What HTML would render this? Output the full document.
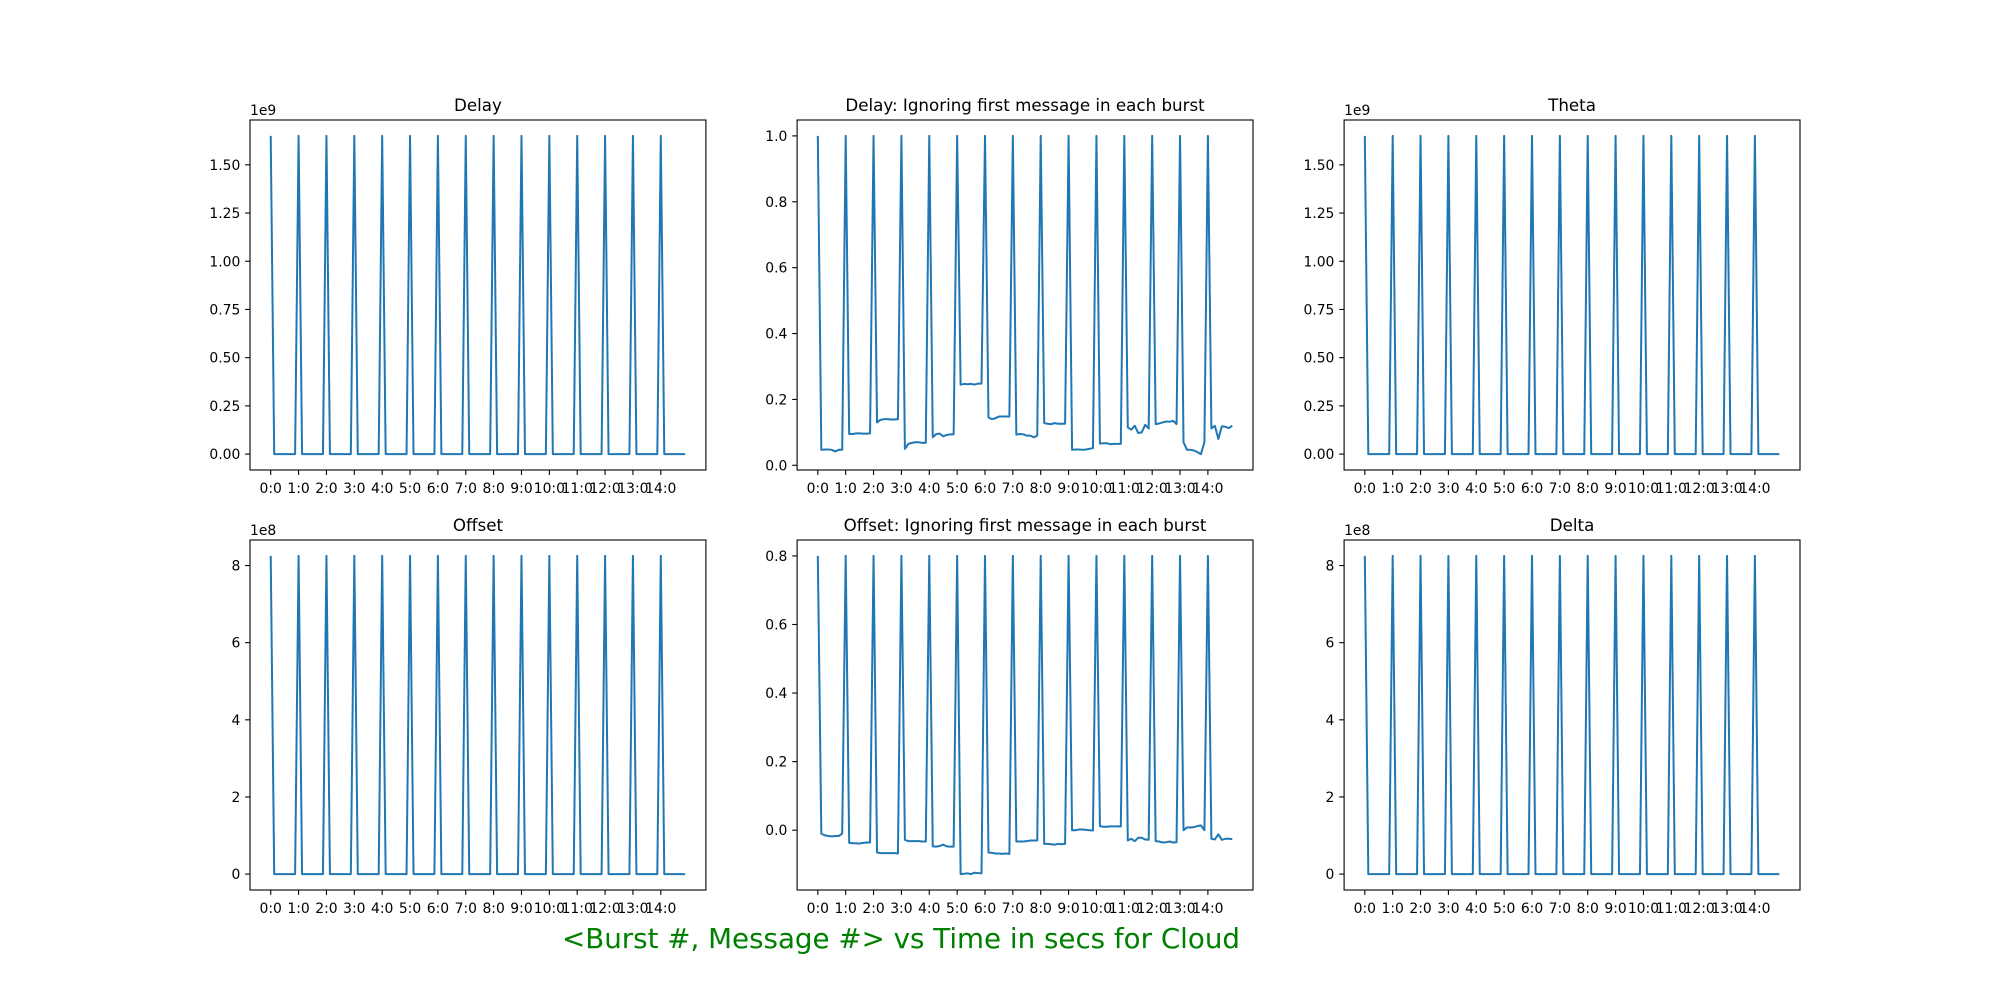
<!DOCTYPE html>
<html><head><meta charset="utf-8"><style>
html,body{margin:0;padding:0;background:#fff;}
svg{display:block;font-family:"DejaVu Sans","Liberation Sans",sans-serif;}
</style></head><body>
<svg id="fig" width="2000" height="1000" viewBox="0 0 2000 1000" xmlns="http://www.w3.org/2000/svg">
<rect width="2000" height="1000" fill="#fff"/>
<text x="562" y="948" font-size="27.8" fill="#008000" textLength="678" lengthAdjust="spacingAndGlyphs">&lt;Burst #, Message #&gt; vs Time in secs for Cloud</text>
</svg>
<script>
const burstLabels = ["0:0","1:0","2:0","3:0","4:0","5:0","6:0","7:0","8:0","9:0","10:0","11:0","12:0","13:0","14:0"];
const messagesPerBurst = 8;
const delayBursts = [
[1.65e9,0,0,0,0,0,0,0],[1.65e9,0,0,0,0,0,0,0],[1.65e9,0,0,0,0,0,0,0],[1.65e9,0,0,0,0,0,0,0],[1.65e9,0,0,0,0,0,0,0],
[1.65e9,0,0,0,0,0,0,0],[1.65e9,0,0,0,0,0,0,0],[1.65e9,0,0,0,0,0,0,0],[1.65e9,0,0,0,0,0,0,0],[1.65e9,0,0,0,0,0,0,0],
[1.65e9,0,0,0,0,0,0,0],[1.65e9,0,0,0,0,0,0,0],[1.65e9,0,0,0,0,0,0,0],[1.65e9,0,0,0,0,0,0,0],[1.65e9,0,0,0,0,0,0,0]];
const thetaBursts = [
[1.65e9,0,0,0,0,0,0,0],[1.65e9,0,0,0,0,0,0,0],[1.65e9,0,0,0,0,0,0,0],[1.65e9,0,0,0,0,0,0,0],[1.65e9,0,0,0,0,0,0,0],
[1.65e9,0,0,0,0,0,0,0],[1.65e9,0,0,0,0,0,0,0],[1.65e9,0,0,0,0,0,0,0],[1.65e9,0,0,0,0,0,0,0],[1.65e9,0,0,0,0,0,0,0],
[1.65e9,0,0,0,0,0,0,0],[1.65e9,0,0,0,0,0,0,0],[1.65e9,0,0,0,0,0,0,0],[1.65e9,0,0,0,0,0,0,0],[1.65e9,0,0,0,0,0,0,0]];
const offsetBursts = [
[8.25e8,0,0,0,0,0,0,0],[8.25e8,0,0,0,0,0,0,0],[8.25e8,0,0,0,0,0,0,0],[8.25e8,0,0,0,0,0,0,0],[8.25e8,0,0,0,0,0,0,0],
[8.25e8,0,0,0,0,0,0,0],[8.25e8,0,0,0,0,0,0,0],[8.25e8,0,0,0,0,0,0,0],[8.25e8,0,0,0,0,0,0,0],[8.25e8,0,0,0,0,0,0,0],
[8.25e8,0,0,0,0,0,0,0],[8.25e8,0,0,0,0,0,0,0],[8.25e8,0,0,0,0,0,0,0],[8.25e8,0,0,0,0,0,0,0],[8.25e8,0,0,0,0,0,0,0]];
const deltaBursts = [
[8.25e8,0,0,0,0,0,0,0],[8.25e8,0,0,0,0,0,0,0],[8.25e8,0,0,0,0,0,0,0],[8.25e8,0,0,0,0,0,0,0],[8.25e8,0,0,0,0,0,0,0],
[8.25e8,0,0,0,0,0,0,0],[8.25e8,0,0,0,0,0,0,0],[8.25e8,0,0,0,0,0,0,0],[8.25e8,0,0,0,0,0,0,0],[8.25e8,0,0,0,0,0,0,0],
[8.25e8,0,0,0,0,0,0,0],[8.25e8,0,0,0,0,0,0,0],[8.25e8,0,0,0,0,0,0,0],[8.25e8,0,0,0,0,0,0,0],[8.25e8,0,0,0,0,0,0,0]];
const delayIgnBursts = [
[1.0,0.047,0.048,0.048,0.047,0.042,0.047,0.047],
[1.0,0.095,0.095,0.097,0.097,0.096,0.096,0.097],
[1.0,0.13,0.138,0.14,0.14,0.139,0.139,0.14],
[1.0,0.05,0.065,0.068,0.07,0.07,0.068,0.068],
[1.0,0.085,0.095,0.096,0.088,0.092,0.094,0.094],
[1.0,0.245,0.247,0.246,0.247,0.245,0.248,0.248],
[1.0,0.145,0.14,0.143,0.148,0.148,0.148,0.148],
[1.0,0.093,0.095,0.094,0.09,0.09,0.085,0.09],
[1.0,0.128,0.126,0.125,0.128,0.126,0.126,0.126],
[1.0,0.047,0.048,0.048,0.047,0.048,0.05,0.052],
[1.0,0.066,0.067,0.067,0.064,0.065,0.065,0.065],
[1.0,0.115,0.108,0.12,0.098,0.1,0.123,0.112],
[1.0,0.125,0.127,0.13,0.133,0.132,0.135,0.125],
[1.0,0.07,0.047,0.047,0.045,0.04,0.034,0.07],
[1.0,0.112,0.12,0.08,0.118,0.117,0.113,0.12]];
const offsetIgnBursts = [
[0.8,-0.01,-0.015,-0.017,-0.018,-0.017,-0.017,-0.01],
[0.8,-0.037,-0.038,-0.038,-0.039,-0.037,-0.036,-0.036],
[0.8,-0.065,-0.067,-0.067,-0.067,-0.067,-0.067,-0.068],
[0.8,-0.028,-0.032,-0.032,-0.032,-0.032,-0.033,-0.033],
[0.8,-0.047,-0.048,-0.046,-0.042,-0.047,-0.048,-0.048],
[0.8,-0.128,-0.127,-0.126,-0.128,-0.124,-0.125,-0.126],
[0.8,-0.065,-0.066,-0.068,-0.068,-0.069,-0.068,-0.069],
[0.8,-0.033,-0.033,-0.033,-0.032,-0.03,-0.03,-0.03],
[0.8,-0.04,-0.04,-0.041,-0.042,-0.04,-0.041,-0.04],
[0.8,0.0,0.0,0.002,0.002,0.001,0.0,-0.001],
[0.8,0.012,0.01,0.01,0.011,0.011,0.011,0.011],
[0.8,-0.03,-0.025,-0.032,-0.022,-0.022,-0.027,-0.028],
[0.8,-0.032,-0.033,-0.036,-0.035,-0.033,-0.036,-0.035],
[0.8,0.0,0.008,0.008,0.009,0.012,0.014,0.0],
[0.8,-0.025,-0.027,-0.012,-0.028,-0.025,-0.025,-0.026]];
const ticksBig = [0,0.25,0.5,0.75,1.0,1.25,1.5];
const ticksBigLabels = ["0.00","0.25","0.50","0.75","1.00","1.25","1.50"];
const ticksMid = [0,0.2,0.4,0.6,0.8,1.0];
const ticksMidLabels = ["0.0","0.2","0.4","0.6","0.8","1.0"];
const ticksOff = [0,2,4,6,8];
const ticksOffLabels = ["0","2","4","6","8"];
const ticksOffIgn = [0,0.2,0.4,0.6,0.8];
const ticksOffIgnLabels = ["0.0","0.2","0.4","0.6","0.8"];

const NS = "http://www.w3.org/2000/svg";
const fig = document.getElementById('fig');
function mk(tag, attrs, parent){const e=document.createElementNS(NS,tag);for(const k in attrs)e.setAttribute(k,attrs[k]);(parent||fig).appendChild(e);return e;}

const W = 455.9, H = 350;
const colX = [250, 797.1, 1344.1], rowY = [120, 540];
const panels = [
 {name:'delay', title:'Delay', bursts:delayBursts, ticks:ticksBig, labels:ticksBigLabels, scale:1e9, off:'1e9', c:0, r:0},
 {name:'delay-ignoring-first', title:'Delay: Ignoring first message in each burst', bursts:delayIgnBursts, ticks:ticksMid, labels:ticksMidLabels, scale:1, off:'', c:1, r:0},
 {name:'theta', title:'Theta', bursts:thetaBursts, ticks:ticksBig, labels:ticksBigLabels, scale:1e9, off:'1e9', c:2, r:0},
 {name:'offset', title:'Offset', bursts:offsetBursts, ticks:ticksOff, labels:ticksOffLabels, scale:1e8, off:'1e8', c:0, r:1},
 {name:'offset-ignoring-first', title:'Offset: Ignoring first message in each burst', bursts:offsetIgnBursts, ticks:ticksOffIgn, labels:ticksOffIgnLabels, scale:1, off:'', c:1, r:1},
 {name:'delta', title:'Delta', bursts:deltaBursts, ticks:ticksOff, labels:ticksOffLabels, scale:1e8, off:'1e8', c:2, r:1}
];

panels.forEach(p=>{
  const L=colX[p.c], T=rowY[p.r];
  const g = mk('g',{});
  
  
  const vals = [].concat(...p.bursts);
  const n = vals.length;
  const xmin = -0.05*(n-1), xmax = 1.05*(n-1);
  let dmin=Math.min(...vals), dmax=Math.max(...vals), dr=dmax-dmin;
  const ymin=dmin-0.05*dr, ymax=dmax+0.05*dr;
  const sx = v => L + (v-xmin)/(xmax-xmin)*W;
  const sy = v => T + H - (v-ymin)/(ymax-ymin)*H;
  // line
  const pts = vals.map((v,i)=>sx(i).toFixed(2)+','+sy(v).toFixed(2)).join(' ');
  const line = mk('polyline',{points:pts,fill:'none',stroke:'#1f77b4','stroke-width':2,'stroke-linejoin':'round'},g);
  
  
  // frame
  const fr = mk('rect',{x:L,y:T,width:W,height:H,fill:'none',stroke:'#000','stroke-width':1.1},g);
  
  
  // x ticks
  burstLabels.forEach((lab,i)=>{
    const x = sx(i*messagesPerBurst);
    mk('line',{x1:x,x2:x,y1:T+H,y2:T+H+4.9,stroke:'#000','stroke-width':1.1},g);
    const t = mk('text',{x:x,y:T+H+23,'font-size':13.9,'text-anchor':'middle',fill:'#000'},g);
    t.textContent = lab;
    
    
  });
  // y ticks
  p.ticks.forEach((tv,i)=>{
    const y = sy(tv*p.scale);
    mk('line',{x1:L-4.9,x2:L,y1:y,y2:y,stroke:'#000','stroke-width':1.1},g);
    const t = mk('text',{x:L-9.7,y:y+5,'font-size':13.9,'text-anchor':'end',fill:'#000'},g);
    t.textContent = p.labels[i];
    
    
  });
  if(p.off){
    const o = mk('text',{x:L,y:T-5,'font-size':13.9,fill:'#000'},g);
    o.textContent = p.off;
    
    
  }
  const tt = mk('text',{x:L+W/2,y:T-9,'font-size':16.7,'text-anchor':'middle',fill:'#000'},g);
  tt.textContent = p.title;
  
  
});
</script>
</body></html>
